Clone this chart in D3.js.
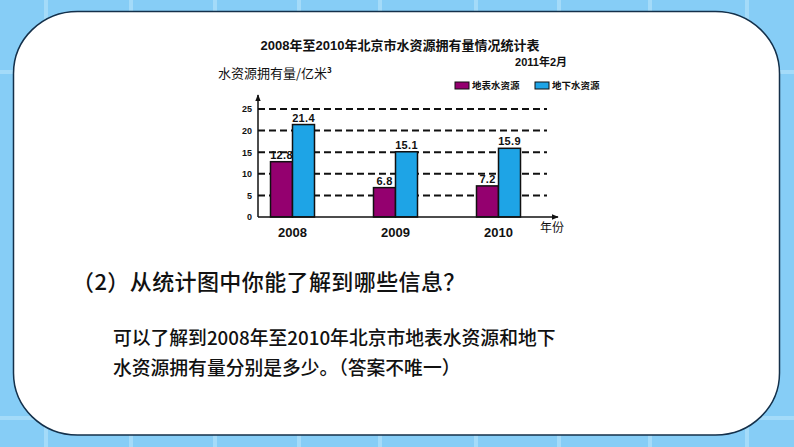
<!DOCTYPE html>
<html>
<head>
<meta charset="utf-8">
<script src="https://cdn.jsdelivr.net/npm/d3@7/dist/d3.min.js"></script>
<style>
  html, body { margin: 0; padding: 0; background: #86cdf6; }
  svg { display: block; }
</style>
</head>
<body>
<svg id="chart" width="794" height="447"></svg>
<script>
// ---- data ----
const years = ["2008", "2009", "2010"];
const surfaceWater = [12.8, 6.8, 7.2];   // 地表水资源
const groundWater = [21.4, 15.1, 15.9];  // 地下水资源
const seriesNames = ["地表水资源", "地下水资源"];
const yTicks = [0, 5, 10, 15, 20, 25];
const chartTitle = "2008年至2010年北京市水资源拥有量情况统计表";
const chartDate = "2011年2月";
const yTitle = "水资源拥有量/亿米";
const xTitle = "年份";
const question = "（2）从统计图中你能了解到哪些信息？";
const answerLines = ["可以了解到2008年至2010年北京市地表水资源和地下", "水资源拥有量分别是多少。（答案不唯一）"];

const colors = ["#94006f", "#1ea4e6"];
const seriesValues = [surfaceWater, groundWater];

const svg = d3.select("#chart");
const W = 794, H = 447;

// ---- background tiles ----
svg.append("rect").attr("width", W).attr("height", H).attr("fill", "#86cdf6");
const vLines = [46, 131, 215, 299, 380, 476, 559, 650, 747];
const hLines = [72, 418];
svg.selectAll(".vl").data(vLines).enter().append("rect")
  .attr("x", d => d - 2).attr("y", 0).attr("width", 4).attr("height", H)
  .attr("fill", "#a4dbf9");
svg.selectAll(".hl").data(hLines).enter().append("rect")
  .attr("x", 0).attr("y", d => d - 2).attr("width", W).attr("height", 4)
  .attr("fill", "#a4dbf9");

// ---- white panel ----
svg.append("rect")
  .attr("x", 13.5).attr("y", 11.5).attr("width", 766).attr("height", 423.5)
  .attr("rx", 64).attr("ry", 62)
  .attr("fill", "#ffffff").attr("stroke", "#14304a").attr("stroke-width", 1.5);

const latin = "'Liberation Sans', Arial, 'Noto Sans CJK SC', sans-serif";
const cjk = "'Noto Sans CJK SC', 'Liberation Sans', sans-serif";

// ---- titles ----
svg.append("text").attr("x", 400).attr("y", 50)
  .attr("text-anchor", "middle").attr("font-family", latin)
  .attr("font-weight", "bold").attr("font-size", 13).attr("fill", "#111")
  .text(chartTitle);
svg.append("text").attr("x", 567).attr("y", 66)
  .attr("text-anchor", "end").attr("font-family", latin)
  .attr("font-weight", "bold").attr("font-size", 11).attr("fill", "#111")
  .text(chartDate);
const yt = svg.append("text").attr("x", 218).attr("y", 78)
  .attr("font-family", cjk).attr("font-size", 13).attr("fill", "#111");
yt.append("tspan").text(yTitle);
yt.append("tspan").attr("dy", -5).attr("font-size", 8).attr("font-weight", "bold").text("3");

// ---- scales ----
const y = d3.scaleLinear().domain([0, 25]).range([217, 109]);
const x = d3.scaleBand().domain(years).range([241, 550]).padding(0);
const xs = d3.scaleBand().domain(seriesNames).range([0, 44]).padding(0);
const x0 = 258, xEnd = 558, yTop = 95;

// ---- gridlines ----
svg.append("g").selectAll("line").data(yTicks.filter(d => d > 0)).enter().append("line")
  .attr("x1", x0).attr("x2", 547)
  .attr("y1", d => y(d)).attr("y2", d => y(d))
  .attr("stroke", "#111").attr("stroke-width", 2).attr("stroke-dasharray", "7,4");

// ---- y axis labels ----
const yAxis = d3.axisLeft(y).tickValues(yTicks).tickSize(0).tickPadding(6);
const gy = svg.append("g").attr("transform", `translate(${x0},0)`).call(yAxis);
gy.select(".domain").remove();
gy.selectAll("text").attr("font-family", latin).attr("font-weight", "bold")
  .attr("font-size", 9).attr("fill", "#111");

// ---- bars ----
const defs = svg.append("defs");
defs.append("marker").attr("id", "arrow").attr("viewBox", "0 0 10 10")
  .attr("refX", 9).attr("refY", 5).attr("markerWidth", 7).attr("markerHeight", 7)
  .attr("markerUnits", "userSpaceOnUse").attr("orient", "auto")
  .append("path").attr("d", "M0,1 L10,5 L0,9 Z").attr("fill", "#111");

seriesValues.forEach((vals, si) => {
  const g = svg.append("g");
  g.selectAll("rect").data(vals).enter().append("rect")
    .attr("x", (d, i) => x(years[i]) + x.bandwidth() / 2 - 22 + xs(seriesNames[si]))
    .attr("y", d => y(d))
    .attr("width", xs.bandwidth())
    .attr("height", d => y(0) - y(d))
    .attr("fill", colors[si]).attr("stroke", "#111").attr("stroke-width", 1.5);
  g.selectAll("text").data(vals).enter().append("text")
    .attr("x", (d, i) => x(years[i]) + x.bandwidth() / 2 - 22 + xs(seriesNames[si]) + xs.bandwidth() / 2)
    .attr("y", d => y(d) - 3)
    .attr("text-anchor", "middle").attr("font-family", latin).attr("font-weight", "bold")
    .attr("font-size", 11).attr("letter-spacing", 0.3).attr("fill", "#111")
    .text(d => d.toFixed(1));
});

// ---- axes lines ----
svg.append("line").attr("x1", x0).attr("y1", y(0)).attr("x2", x0).attr("y2", yTop)
  .attr("stroke", "#111").attr("stroke-width", 1.5).attr("marker-end", "url(#arrow)");
svg.append("line").attr("x1", x0).attr("y1", y(0)).attr("x2", xEnd).attr("y2", y(0))
  .attr("stroke", "#111").attr("stroke-width", 1.5).attr("marker-end", "url(#arrow)");

// ---- x axis labels ----
const xAxis = d3.axisBottom(x).tickSize(0).tickPadding(11);
const gx = svg.append("g").attr("transform", `translate(0,${y(0)})`).call(xAxis);
gx.select(".domain").remove();
gx.selectAll("text").attr("font-family", latin).attr("font-weight", "bold")
  .attr("font-size", 13).attr("fill", "#111");
svg.append("text").attr("x", 540).attr("y", 232)
  .attr("font-family", cjk).attr("font-size", 12).attr("fill", "#111").text(xTitle);

// ---- legend ----
const legX = [455, 535];
const leg = svg.append("g");
seriesNames.forEach((name, i) => {
  leg.append("rect").attr("x", legX[i]).attr("y", 82).attr("width", 14).attr("height", 7)
    .attr("fill", colors[i]).attr("stroke", "#111").attr("stroke-width", 1);
  leg.append("text").attr("x", legX[i] + 17).attr("y", 89)
    .attr("font-family", cjk).attr("font-weight", "bold").attr("font-size", 9.5)
    .attr("fill", "#111").text(name);
});

// ---- question & answer ----
svg.append("text").attr("x", 72).attr("y", 290)
  .attr("font-family", cjk).attr("font-weight", 500).attr("font-size", 22).attr("letter-spacing", 0.4)
  .attr("fill", "#111").text(question);
answerLines.forEach((line, i) => {
  svg.append("text").attr("x", 113).attr("y", 345 + i * 30)
    .attr("font-family", cjk).attr("font-weight", 500).attr("font-size", 18.8).attr("fill", "#111").text(line);
});
</script>
</body>
</html>
